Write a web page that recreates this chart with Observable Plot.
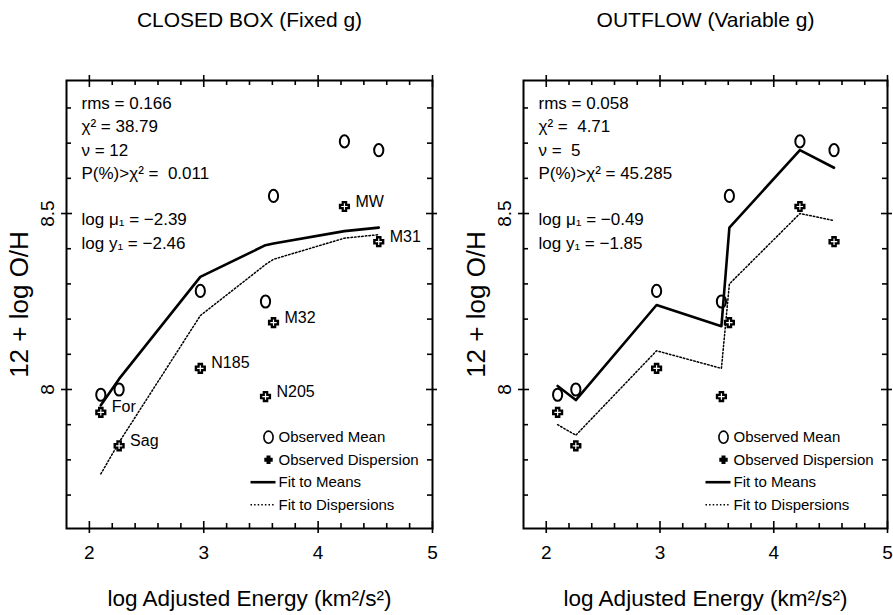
<!DOCTYPE html>
<html><head><meta charset="utf-8">
<script src="https://cdn.jsdelivr.net/npm/d3@7"></script>
<script src="https://cdn.jsdelivr.net/npm/@observablehq/plot@0.6"></script>
<style>
html,body{margin:0;padding:0;background:#fff;}
#wrap{display:flex;width:893px;height:615px;overflow:hidden;}
svg text{white-space:pre;}
</style></head><body><div id="wrap"></div>
<script>
// ---- data ----
const galaxies = ["For", "Sag", "N185", "N205", "M32", "MW", "M31"];
const logEnergy = [2.10, 2.26, 2.97, 3.54, 3.61, 4.23, 4.53];
const observedMean = [7.985, 8.00, 8.28, 8.25, 8.55, 8.705, 8.68];
const observedDispersion = [7.935, 7.84, 8.06, 7.98, 8.19, 8.52, 8.42];
const closedFitMeans = [7.955, 8.03, 8.32, 8.41, 8.415, 8.45, 8.46];
const closedFitDisp = [7.76, 7.85, 8.21, 8.355, 8.37, 8.43, 8.44];
const outflowFitMeans = [8.01, 7.97, 8.24, 8.18, 8.46, 8.68, 8.63];
const outflowFitDisp = [7.90, 7.87, 8.11, 8.06, 8.30, 8.50, 8.48];
const panelTitles = ["CLOSED BOX (Fixed g)", "OUTFLOW (Variable g)"];
const closedStats = ["rms = 0.166", "χ² = 38.79", "ν = 12", "P(%)>χ² =  0.011", "", "log μ₁ = −2.39", "log y₁ = −2.46"];
const outflowStats = ["rms = 0.058", "χ² =  4.71", "ν =  5", "P(%)>χ² = 45.285", "", "log μ₁ = −0.49", "log y₁ = −1.85"];
const legendLabels = ["Observed Mean", "Observed Dispersion", "Fit to Means", "Fit to Dispersions"];
const xLabel = "log Adjusted Energy (km²/s²)";
const yLabel = "12 + log O/H";
const xMajor = [2, 3, 4, 5];
const xMinor = [2.2, 2.4, 2.6, 2.8, 3.2, 3.4, 3.6, 3.8, 4.2, 4.4, 4.6, 4.8];
const yMajor = [8, 8.5];
const yMinor = [7.7, 7.8, 7.9, 8.1, 8.2, 8.3, 8.4, 8.6, 8.7, 8.8];

// ---- symbols ----
const oval = {draw(c) {
  const rx = 4.6, ry = 6.1, k = 0.5523;
  c.moveTo(rx, 0);
  c.bezierCurveTo(rx, ry * k, rx * k, ry, 0, ry);
  c.bezierCurveTo(-rx * k, ry, -rx, ry * k, -rx, 0);
  c.bezierCurveTo(-rx, -ry * k, -rx * k, -ry, 0, -ry);
  c.bezierCurveTo(rx * k, -ry, rx, -ry * k, rx, 0);
  c.closePath();
}};
function fatCross(a, w) {
  return {draw(c) {
    c.moveTo(-w, -a); c.lineTo(w, -a); c.lineTo(w, -w); c.lineTo(a, -w); c.lineTo(a, w);
    c.lineTo(w, w); c.lineTo(w, a); c.lineTo(-w, a); c.lineTo(-w, w); c.lineTo(-a, w);
    c.lineTo(-a, -w); c.lineTo(-w, -w); c.closePath();
  }};
}
const thinPlus = {draw(c) { c.moveTo(-3.2, 0); c.lineTo(3.2, 0); c.moveTo(0, -3.2); c.lineTo(0, 3.2); }};
const hline = {draw(c) { c.moveTo(-12.5, 0); c.lineTo(12.5, 0); }};

const FONT = "'Liberation Sans', Arial, Helvetica, sans-serif";
const DOTS = "1.5,2.1";

function panel({title, stats, fitMeans, fitDisp, labels, width, marginLeft, marginRight}) {
  const H = 615, mt = 80, mb = 87;
  const fh = H - mt - mb;
  const fw = width - marginLeft - marginRight;
  const pts = galaxies.map((g, i) => ({g, x: logEnergy[i], mean: observedMean[i], disp: observedDispersion[i], fm: fitMeans[i], fd: fitDisp[i]}));
  const tk = {stroke: "black", strokeWidth: 1.6};
  const rowDy = [-91.3, -68.7, -46.3, -23.7];
  const marks = [
    Plot.frame({stroke: "black", strokeWidth: 2}),
    // ticks
    Plot.ruleX(xMinor, {x: d => d, insetTop: fh - 5, ...tk}),
    Plot.ruleX(xMinor, {x: d => d, insetBottom: fh - 5, ...tk}),
    Plot.ruleX(xMajor, {x: d => d, insetTop: fh - 7, insetBottom: -5, ...tk}),
    Plot.ruleX(xMajor, {x: d => d, insetBottom: fh - 7, insetTop: -5, ...tk}),
    Plot.ruleY(yMinor, {y: d => d, insetRight: fw - 5, ...tk}),
    Plot.ruleY(yMinor, {y: d => d, insetLeft: fw - 5, ...tk}),
    Plot.ruleY(yMajor, {y: d => d, insetRight: fw - 6, insetLeft: -5, ...tk}),
    Plot.ruleY(yMajor, {y: d => d, insetLeft: fw - 6, insetRight: -5, ...tk}),
    // tick labels
    Plot.text(xMajor, {x: d => d, text: d => String(d), frameAnchor: "bottom", lineAnchor: "middle", dy: 24, fontSize: 19}),
    Plot.text(yMajor, {y: d => d, text: d => String(d), frameAnchor: "left", textAnchor: "middle", lineAnchor: "middle", dx: -18.5, rotate: -90, fontSize: 19}),
    // axis titles & panel title
    Plot.text([xLabel], {x: null, y: null, text: d => d, frameAnchor: "bottom", lineAnchor: "middle", dy: 70, fontSize: 22.5}),
    Plot.text([yLabel], {x: null, y: null, text: d => d, frameAnchor: "left", textAnchor: "middle", lineAnchor: "middle", dx: -47, rotate: -90, fontSize: 26}),
    Plot.text([title], {x: null, y: null, text: d => d, frameAnchor: "top", lineAnchor: "middle", dy: -60, fontSize: 21}),
    // stats block
    Plot.text([stats.join("\n")], {x: null, y: null, text: d => d, frameAnchor: "top-left", dx: 15, dy: 12, textAnchor: "start", lineAnchor: "top", lineHeight: 1.37, fontSize: 17}),
    // fits
    Plot.line(pts, {x: "x", y: "fm", stroke: "black", strokeWidth: 2.6}),
    Plot.line(pts, {x: "x", y: "fd", stroke: "black", strokeWidth: 1.5, strokeDasharray: DOTS}),
    // observations
    Plot.dot(pts, {x: "x", y: "mean", symbol: oval, stroke: "black", fill: "none", strokeWidth: 2}),
    Plot.dot(pts, {x: "x", y: "disp", symbol: fatCross(5.6, 2.8), fill: "black", stroke: "none"}),
    Plot.dot(pts, {x: "x", y: "disp", symbol: thinPlus, stroke: "white", fill: "none", strokeWidth: 1.2}),
    // legend
    ...legendLabels.map((t, i) => Plot.text([t], {x: null, y: null, text: d => d, frameAnchor: "bottom-right", dx: -154, dy: rowDy[i], textAnchor: "start", lineAnchor: "middle", fontSize: 15})),
    Plot.dot([legendLabels[0]], {x: null, y: null, frameAnchor: "bottom-right", dx: -164, dy: rowDy[0], symbol: oval, stroke: "black", fill: "none", strokeWidth: 1.6}),
    Plot.dot([legendLabels[1]], {x: null, y: null, frameAnchor: "bottom-right", dx: -164, dy: rowDy[1], symbol: fatCross(4.2, 2), fill: "black", stroke: "none"}),
    Plot.dot([legendLabels[2]], {x: null, y: null, frameAnchor: "bottom-right", dx: -169.5, dy: rowDy[2], symbol: hline, stroke: "black", fill: "none", strokeWidth: 2.6}),
    Plot.dot([legendLabels[3]], {x: null, y: null, frameAnchor: "bottom-right", dx: -169.5, dy: rowDy[3], symbol: hline, stroke: "black", fill: "none", strokeWidth: 1.5, strokeDasharray: DOTS})
  ];
  if (labels) marks.push(Plot.text(pts, {x: "x", y: "disp", text: "g", dx: 11, dy: -5, textAnchor: "start", fontSize: 16}));
  return Plot.plot({
    width, height: H, marginTop: mt, marginBottom: mb, marginLeft, marginRight,
    x: {domain: [1.8, 5], axis: null},
    y: {domain: [7.605, 8.878], axis: null},
    style: {fontFamily: FONT, background: "white", color: "black", overflow: "visible"},
    marks
  });
}

const wrap = document.getElementById("wrap");
wrap.appendChild(panel({title: panelTitles[0], stats: closedStats, fitMeans: closedFitMeans, fitDisp: closedFitDisp, labels: true, width: 446, marginLeft: 66, marginRight: 14}));
wrap.appendChild(panel({title: panelTitles[1], stats: outflowStats, fitMeans: outflowFitMeans, fitDisp: outflowFitDisp, labels: false, width: 447, marginLeft: 77, marginRight: 6}));
</script></body></html>
